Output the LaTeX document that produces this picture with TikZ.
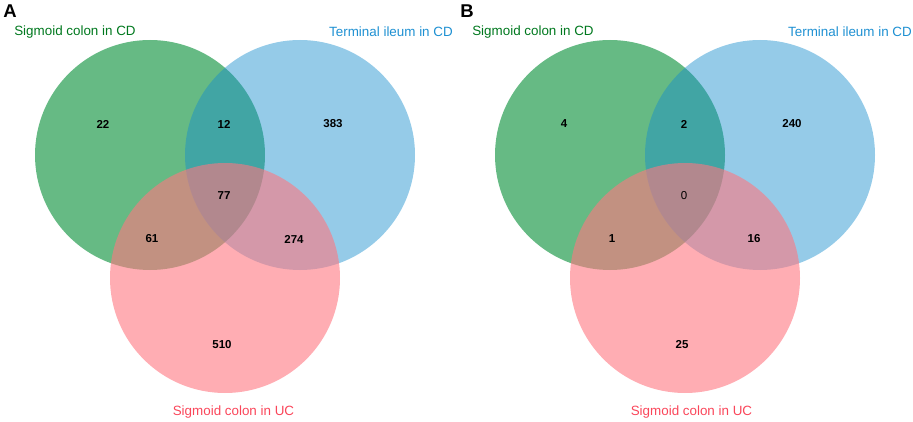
\documentclass[tikz,border=0pt]{standalone}
\usepackage{fontspec}
\setmainfont{Liberation Sans}

\definecolor{sigcd}{RGB}{0,140,50}
\definecolor{ilecd}{RGB}{20,140,205}
\definecolor{siguc}{RGB}{255,118,128}
\definecolor{sigcdtxt}{RGB}{0,120,30}
\definecolor{ilecdtxt}{RGB}{30,144,210}
\definecolor{siguctxt}{RGB}{250,70,90}

\tikzset{every picture/.style={line width=0.75pt}}
\tikzset{
  setcircle/.style={draw opacity=0,fill opacity=0.6},
  setlabel/.style={inner sep=0.75pt,font=\fontsize{13.4}{15}\selectfont},
  count/.style={inner sep=0.75pt,font=\fontsize{11.5}{13}\selectfont\bfseries},
  panel/.style={inner sep=0.75pt,font=\fontsize{18.5}{20}\selectfont\bfseries}
}

\begin{document}
\begin{tikzpicture}[x=1pt,y=1pt,yscale=-1,xscale=1]
    \useasboundingbox (0,0) rectangle (913,422);

    %Shape: Circle [id:sigcdA]
    \draw [setcircle,fill=sigcd] (150,155) circle [radius=115];
    %Shape: Circle [id:ilecdA]
    \draw [setcircle,fill=ilecd,fill opacity=0.45] (300,155) circle [radius=115];
    %Shape: Circle [id:sigucA]
    \draw [setcircle,fill=siguc] (225,278) circle [radius=115];

    %Shape: Circle [id:sigcdB]
    \draw [setcircle,fill=sigcd] (610,155) circle [radius=115];
    %Shape: Circle [id:ilecdB]
    \draw [setcircle,fill=ilecd,fill opacity=0.45] (760,155) circle [radius=115];
    %Shape: Circle [id:sigucB]
    \draw [setcircle,fill=siguc] (685,278) circle [radius=115];

    % Text Node
    \node (panA) [panel] at (10,11) {A};
    % Text Node
    \node (panB) [panel] at (467,11) {B};

    % Text Node
    \node (sigcdA) [setlabel,text=sigcdtxt] at (75,32) {Sigmoid colon in CD};
    % Text Node
    \node (ilecdA) [setlabel,text=ilecdtxt] at (391,32) {Terminal ileum in CD};
    % Text Node
    \node (sigucA) [setlabel,text=siguctxt] at (233.5,412) {Sigmoid colon in UC};
    % Text Node
    \node (sigcdB) [setlabel,text=sigcdtxt] at (533,32) {Sigmoid colon in CD};
    % Text Node
    \node (ilecdB) [setlabel,text=ilecdtxt] at (850,32) {Terminal ileum in CD};
    % Text Node
    \node (sigucB) [setlabel,text=siguctxt] at (691.5,412) {Sigmoid colon in UC};

    % Text Node
    \node (onlysigcdA) [count] at (103,124) {22};
    % Text Node
    \node (sigileA) [count] at (224,124) {12};
    % Text Node
    \node (onlyileA) [count] at (333,124) {383};
    % Text Node
    \node (allA) [count] at (224,196) {77};
    % Text Node
    \node (sigcducA) [count] at (152,239) {61};
    % Text Node
    \node (ileucA) [count] at (294,239) {274};
    % Text Node
    \node (onlyucA) [count] at (222,345) {510};

    % Text Node
    \node (onlysigcdB) [count] at (564,124) {4};
    % Text Node
    \node (sigileB) [count] at (684,124) {2};
    % Text Node
    \node (onlyileB) [count] at (792,124) {240};
    % Text Node
    \node (allB) [count,font=\fontsize{11.5}{13}\selectfont\mdseries] at (684,196) {0};
    % Text Node
    \node (sigcducB) [count] at (612,239) {1};
    % Text Node
    \node (ileucB) [count] at (754,239) {16};
    % Text Node
    \node (onlyucB) [count] at (682,345) {25};

\end{tikzpicture}
\end{document}
